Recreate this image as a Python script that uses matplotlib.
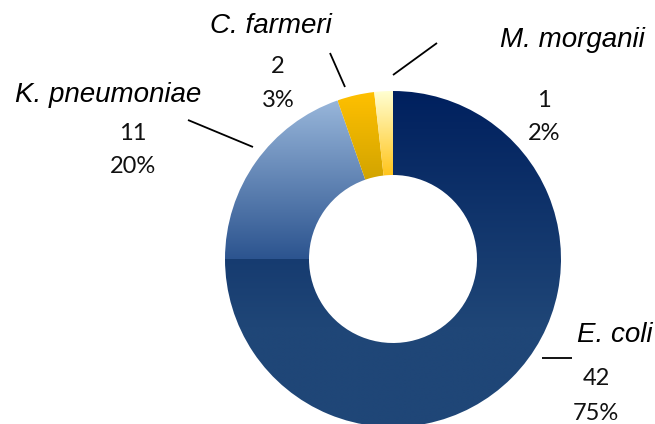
import numpy as np
import matplotlib
matplotlib.use("Agg")
import matplotlib.pyplot as plt
from matplotlib.colors import LinearSegmentedColormap

# data
species = ["E. coli", "K. pneumoniae", "C. farmeri", "M. morganii"]
counts = [42, 11, 2, 1]
percents = [75, 20, 3, 2]

# vertical gradient stops per slice (top -> bottom)
gradients = [
    [(0.0, "#00205e"), (0.7, "#1f4677"), (1.0, "#1f4677")],
    [(0.0, "#98b6da"), (1.0, "#2c548f")],
    [(0.0, "#ffc000"), (1.0, "#d2a400")],
    [(0.0, "#ffffd2"), (1.0, "#ffc41a")],
]

# layout in pixels (y measured from top)
W, H = 655, 424
center = (393, 259)
radius = 168
# name (x, baseline), numbers (x, baseline line1, baseline line2)
name_pos = [(615, 342), (108, 102), (271, 33), (572, 47)]
num_pos = [(596, 385, 420), (133, 140, 173), (278, 73, 107), (544, 107, 140)]
leaders = [((542, 358), (572, 358)), ((188, 120), (253, 147)),
           ((330, 53), (345, 87)), ((437, 43), (393, 75))]

fig = plt.figure(figsize=(W / 100, H / 100), dpi=100)
ax = fig.add_axes([0, 0, 1, 1])

wedges, _ = ax.pie(counts, startangle=90, counterclock=False,
                   radius=radius, center=(center[0], H - center[1]),
                   wedgeprops=dict(width=radius * 0.5, facecolor="none",
                                   edgecolor="none"))
ax.set_xlim(0, W)
ax.set_ylim(0, H)
ax.set_aspect("auto")
ax.axis("off")

# fill each slice with its gradient
for w, stops in zip(wedges, gradients):
    cmap = LinearSegmentedColormap.from_list("g", stops)
    bb = w.get_path().get_extents()
    grad = np.linspace(0, 1, 256).reshape(-1, 1)
    im = ax.imshow(grad, cmap=cmap, aspect="auto", origin="upper",
                   extent=[bb.x0, bb.x1, bb.y0, bb.y1], zorder=1,
                   interpolation="bilinear")
    im.set_clip_path(w)
ax.set_xlim(0, W)
ax.set_ylim(0, H)

name_font = dict(family="Liberation Sans", style="italic", fontsize=20,
                 color="black")
num_font = dict(family="Lato", fontsize=17, color="#111111")

for name, n, p, (nx, ny), (vx, vy1, vy2) in zip(species, counts, percents,
                                                  name_pos, num_pos):
    ax.text(nx, H - ny, name, ha="center", va="baseline", **name_font)
    ax.text(vx, H - vy1, str(n), ha="center", va="baseline", **num_font)
    ax.text(vx, H - vy2, f"{p}%", ha="center", va="baseline", **num_font)

for (x0, y0), (x1, y1) in leaders:
    ax.plot([x0, x1], [H - y0, H - y1], color="black", lw=1.3,
            solid_capstyle="butt")

fig.savefig("out.png", dpi=100)
